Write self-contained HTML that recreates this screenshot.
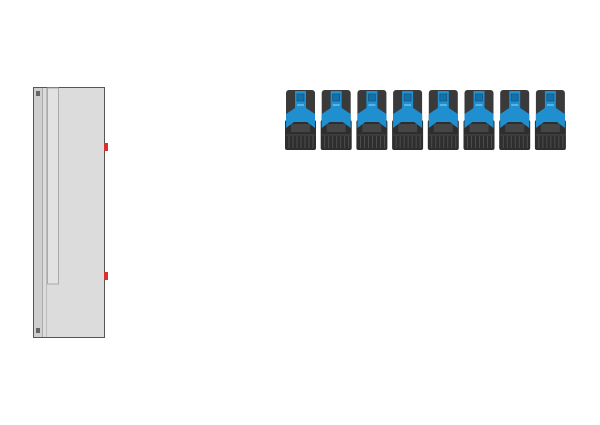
<!DOCTYPE html>
<html><head><style>body{margin:0;background:#fff}svg{display:block}</style></head><body>
<svg width="600" height="425" viewBox="0 0 600 425" xmlns="http://www.w3.org/2000/svg">
<defs>
<g id="dev">
  <rect x="1" y="0" width="29" height="34" rx="3" fill="#3a3a3a"/>
  <rect x="0" y="30" width="31" height="30" rx="2" fill="#2e2e2e"/>
  <path d="M10 1 H21 V18 L30 24 V38 L22 32 H9 L1 38 V24 L10 18 Z" fill="#1f8fd0"/>
  <rect x="12" y="4" width="7" height="7" fill="#1570a8" stroke="#0d4f7a" stroke-width="0.6"/>
  <rect x="12" y="14" width="7" height="2" fill="#5ab3e6"/>
  <rect x="6" y="34" width="19" height="8" fill="#454545"/>
  <g stroke="#555" stroke-width="0.8">
    <line x1="4" y1="46" x2="4" y2="58"/><line x1="8" y1="46" x2="8" y2="58"/><line x1="12" y1="46" x2="12" y2="58"/>
    <line x1="16" y1="46" x2="16" y2="58"/><line x1="20" y1="46" x2="20" y2="58"/><line x1="24" y1="46" x2="24" y2="58"/><line x1="28" y1="46" x2="28" y2="58"/>
  </g>
  <line x1="1" y1="45" x2="30" y2="45" stroke="#555" stroke-width="0.8"/>
</g>
</defs>
<rect x="33.5" y="87.5" width="71" height="250" fill="#dcdcdc" stroke="#555" stroke-width="1"/>
<rect x="34" y="88" width="8" height="249" fill="#cfcfcf"/>
<line x1="42.5" y1="88" x2="42.5" y2="337" stroke="#aaa"/>
<line x1="46.5" y1="88" x2="46.5" y2="337" stroke="#bbb"/>
<rect x="47.5" y="88" width="11" height="196" fill="#e2e2e2" stroke="#aaa"/>
<rect x="36" y="91" width="4" height="5" fill="#666"/>
<rect x="36" y="328" width="4" height="5" fill="#666"/>
<rect x="104" y="143" width="4" height="8" fill="#d83030"/>
<rect x="104" y="272" width="4" height="8" fill="#d83030"/>
<use href="#dev" x="285" y="90"/>
<use href="#dev" x="320.7" y="90"/>
<use href="#dev" x="356.4" y="90"/>
<use href="#dev" x="392.1" y="90"/>
<use href="#dev" x="427.8" y="90"/>
<use href="#dev" x="463.5" y="90"/>
<use href="#dev" x="499.2" y="90"/>
<use href="#dev" x="534.9" y="90"/>
</svg>
</body></html>
